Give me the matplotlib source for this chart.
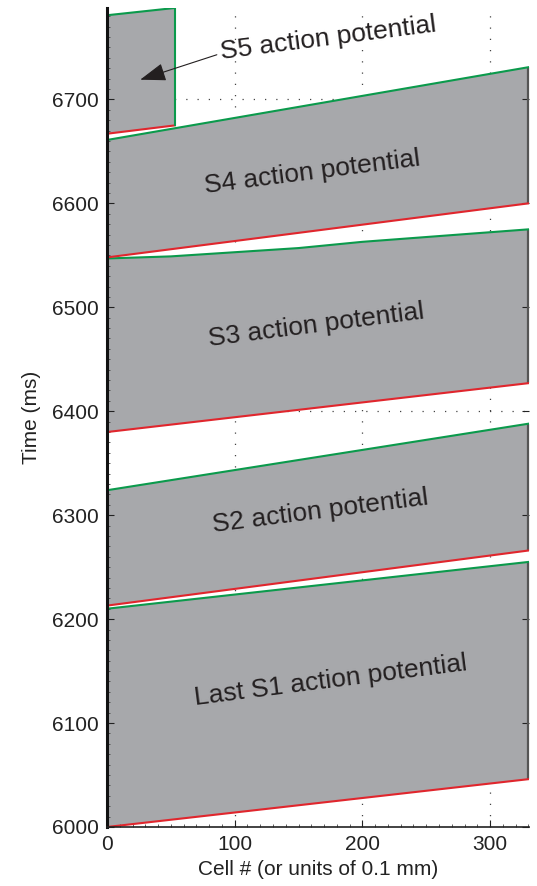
import numpy as np
import matplotlib.pyplot as plt
from matplotlib.ticker import MultipleLocator

plt.rcParams['font.family'] = ['Liberation Sans', 'DejaVu Sans']

# activation (red) and repolarization (green) times at each end of the cable
cells = [0, 330]
act_s1 = [6000, 6046]
rep_s1 = [6210, 6255]
act_s2 = [6213, 6266]
rep_s2 = [6324, 6388]
act_s3 = [6380, 6427]
rep_s3_cells = [0, 50, 100, 150, 200, 265, 330]
rep_s3 = [6547, 6549, 6553, 6557, 6563, 6569, 6575]
act_s4 = [6548, 6600]
rep_s4 = [6661, 6731]
# S5 blocks after the first few cells
s5_cells = [0, 53]
act_s5 = [6667, 6675]
rep_s5 = [6781, 6788]

beat_names = ['Last S1', 'S2', 'S3', 'S4', 'S5']

fill_col = '#a7a8ab'
red = '#e0262d'
green = '#0b9a4c'

fig = plt.figure(figsize=(5.37, 8.86), dpi=100)
ax = fig.add_axes([0.1993, 0.0666, 0.7858, 0.9244])

ax.set_xlim(0, 330.5)
ax.set_ylim(6000, 6788)

# dotted grid sits underneath the action potential blocks
for gx in [100, 200, 300]:
    ax.axvline(gx, color='#444444', lw=0.9, ls=(0, (1, 8)), zorder=0)
for gy in range(6100, 6800, 100):
    ax.axhline(gy, color='#444444', lw=0.9, ls=(0, (1, 8)), zorder=0)

beats = [
    (cells, act_s1, cells, rep_s1),
    (cells, act_s2, cells, rep_s2),
    (cells, act_s3, rep_s3_cells, rep_s3),
    (cells, act_s4, cells, rep_s4),
]

for xa, ya, xr, yr in beats:
    px = np.concatenate([xa, xr[::-1]])
    py = np.concatenate([ya, yr[::-1]])
    ax.fill(px, py, color=fill_col, lw=0, zorder=1)
    ax.plot([xa[-1], xr[-1]], [ya[-1], yr[-1]], color='#555555', lw=1.6,
            zorder=2, clip_on=False, solid_capstyle='butt')
    ax.plot(xa, ya, color=red, lw=1.5, zorder=3)
    ax.plot(xr, yr, color=green, lw=1.5, zorder=3)

# blocked S5 beat
px = [s5_cells[0], s5_cells[1], s5_cells[1], s5_cells[0]]
py = [act_s5[0], act_s5[1], rep_s5[1], rep_s5[0]]
ax.fill(px, py, color=fill_col, lw=0, zorder=1)
ax.plot(s5_cells, act_s5, color=red, lw=1.5, zorder=3)
ax.plot(s5_cells, rep_s5, color=green, lw=1.5, zorder=3)
ax.plot([s5_cells[1], s5_cells[1]], [act_s5[1], rep_s5[1]], color=green, lw=1.5, zorder=3)

txt_kw = dict(fontsize=19, color='#231f20', rotation=7.3, ha='center', va='center',
              rotation_mode='anchor', zorder=5)
ax.text(175, 6141, beat_names[0] + ' action potential', **txt_kw)
ax.text(167, 6304, beat_names[1] + ' action potential', **txt_kw)
ax.text(164, 6483, beat_names[2] + ' action potential', **txt_kw)
ax.text(161, 6630, beat_names[3] + ' action potential', **txt_kw)
ax.text(173, 6759, beat_names[4] + ' action potential', **txt_kw)

ax.annotate('', xy=(26, 6719), xytext=(86, 6743),
            arrowprops=dict(arrowstyle='-|>,head_length=0.8,head_width=0.28',
                            color='#231f20', lw=0.8, mutation_scale=20, shrinkA=0, shrinkB=0),
            zorder=5)

for side in ['top', 'right']:
    ax.spines[side].set_visible(False)
ax.spines['left'].set_linewidth(2.2)
ax.spines['left'].set_color('#111111')
ax.spines['bottom'].set_linewidth(1.2)
ax.spines['bottom'].set_color('#222222')
for sp in ax.spines.values():
    sp.set_zorder(6)

ax.xaxis.set_major_locator(MultipleLocator(100))
ax.xaxis.set_minor_locator(MultipleLocator(10))
ax.yaxis.set_major_locator(MultipleLocator(100))
ax.yaxis.set_minor_locator(MultipleLocator(10))
ax.tick_params(which='major', direction='in', length=5, width=0.8, labelsize=15,
               colors='#222222', pad=6, right=True)
ax.tick_params(which='minor', direction='in', length=2.5, width=0.6, colors='#444444')
ax.tick_params(axis='y', which='minor', right=False)

ax.set_xlabel('Cell # (or units of 0.1 mm)', fontsize=15, color='#222222', labelpad=4)
ax.set_ylabel('Time (ms)', fontsize=15, color='#222222', labelpad=8)

fig.savefig('out.png', dpi=100)
